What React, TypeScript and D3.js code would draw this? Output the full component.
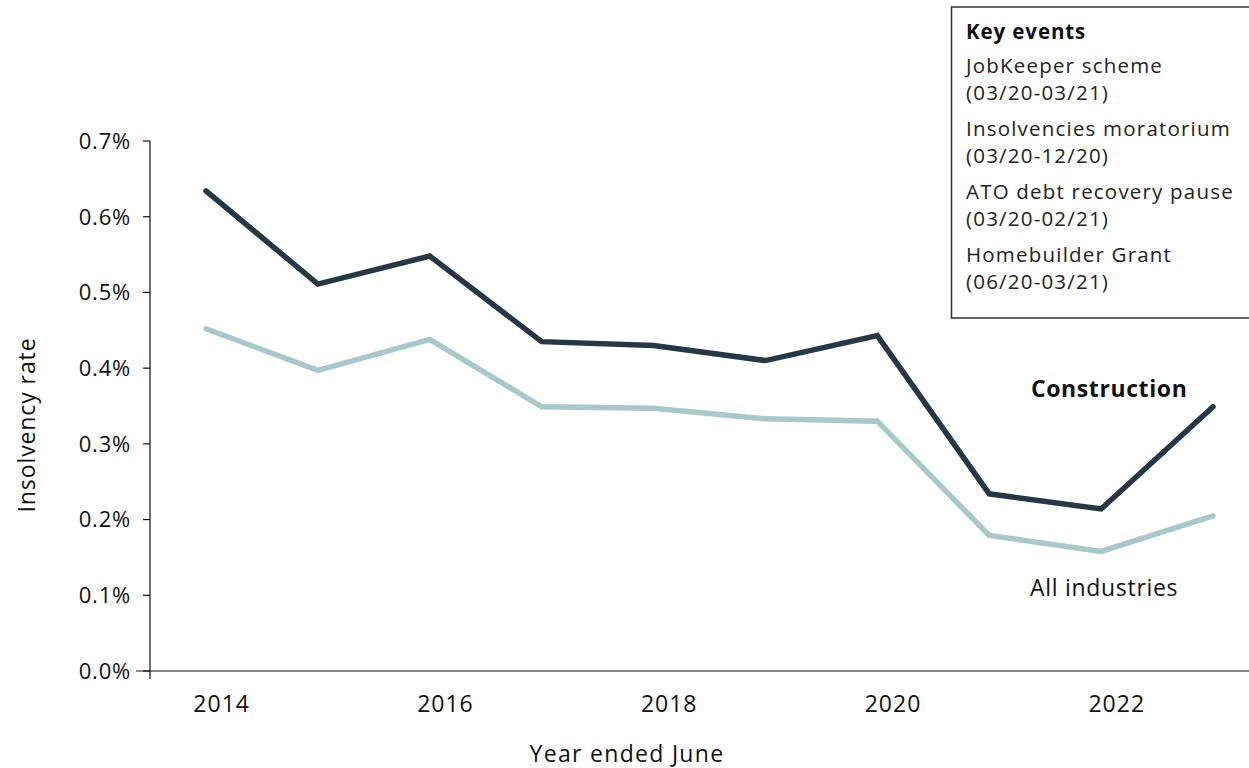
import React from "react";
import * as d3 from "d3";

// Insolvency rate (%), year ended June
const years = [2014, 2015, 2016, 2017, 2018, 2019, 2020, 2021, 2022, 2023];
const construction = [0.634, 0.511, 0.548, 0.435, 0.43, 0.41, 0.443, 0.234, 0.214, 0.349];
const allIndustries = [0.452, 0.397, 0.438, 0.349, 0.347, 0.333, 0.33, 0.179, 0.158, 0.205];
const yTicks = [0, 0.1, 0.2, 0.3, 0.4, 0.5, 0.6, 0.7];
const xTickYears = [2014, 2016, 2018, 2020, 2022];
const keyEvents = [
  ["JobKeeper scheme", "(03/20-03/21)"],
  ["Insolvencies moratorium", "(03/20-12/20)"],
  ["ATO debt recovery pause", "(03/20-02/21)"],
  ["Homebuilder Grant", "(06/20-03/21)"],
];

const W = 1249;
const H = 768;
const FONT = "'Open Sans', 'Noto Sans', sans-serif";
const DARK = "#263746";
const LIGHT = "#a9c8ca";
const INK = "#111";

export default function App() {
  const x = d3.scaleLinear().domain([2014, 2023]).range([206, 1213]);
  const y = d3.scaleLinear().domain([0, 0.7]).range([671, 141]);
  const line = d3
    .line<number>()
    .x((_, i) => x(years[i]))
    .y((d) => y(d));
  const labelShift = 0.14;
  const tickText = { fontSize: 22, letterSpacing: 0.8, fill: INK };
  const titleText = { fontSize: 23, letterSpacing: 1, fill: INK };
  const boxText = { fontSize: 20.5, letterSpacing: 1.2, fill: "#222" };

  return (
    <svg
      width={W}
      height={H}
      style={{ position: "absolute", left: 0, top: 0, background: "#fff" }}
      fontFamily={FONT}
    >
      {/* axes */}
      <line x1={150} x2={150} y1={y(0.7)} y2={679} stroke={INK} strokeWidth={1.2} />
      <line x1={136} x2={W} y1={y(0)} y2={y(0)} stroke={INK} strokeWidth={1.2} />
      {yTicks.map((t) => (
        <g key={t}>
          <line x1={143} x2={150} y1={y(t)} y2={y(t)} stroke={INK} strokeWidth={1.2} />
          <text x={131} y={y(t)} dy="0.36em" textAnchor="end" {...tickText}>
            {d3.format(".1f")(t) + "%"}
          </text>
        </g>
      ))}
      {xTickYears.map((yr) => (
        <text
          key={yr}
          x={x(yr + labelShift)}
          y={712}
          textAnchor="middle"
          {...tickText}
          fontSize={23}
          letterSpacing={1}
        >
          {yr}
        </text>
      ))}
      <text x={627} y={762} textAnchor="middle" {...titleText} letterSpacing={1.3}>
        Year ended June
      </text>
      <text transform={`translate(35,425) rotate(-90)`} textAnchor="middle" {...titleText} letterSpacing={0.9}>
        Insolvency rate
      </text>

      {/* series */}
      <path
        d={line(allIndustries) || ""}
        fill="none"
        stroke={LIGHT}
        strokeWidth={5.5}
        strokeLinecap="round"
      />
      <path
        d={line(construction) || ""}
        fill="none"
        stroke={DARK}
        strokeWidth={5.5}
        strokeLinecap="round"
      />
      <text x={1031} y={397} fontWeight={700} {...titleText} letterSpacing={0.6}>
        Construction
      </text>
      <text x={1030} y={596} {...titleText} letterSpacing={0.7}>
        All industries
      </text>

      {/* key events box */}
      <rect x={951.5} y={7} width={320} height={311} fill="#fff" stroke="#333" strokeWidth={1.5} />
      <text x={966} y={39} fontWeight={700} {...boxText} letterSpacing={0.9} fill={INK}>
        Key events
      </text>
      {keyEvents.map((ev, i) => (
        <g key={ev[0]}>
          <text x={966} y={73 + i * 63} {...boxText}>
            {ev[0]}
          </text>
          <text x={966} y={100 + i * 63} {...boxText}>
            {ev[1]}
          </text>
        </g>
      ))}
    </svg>
  );
}
